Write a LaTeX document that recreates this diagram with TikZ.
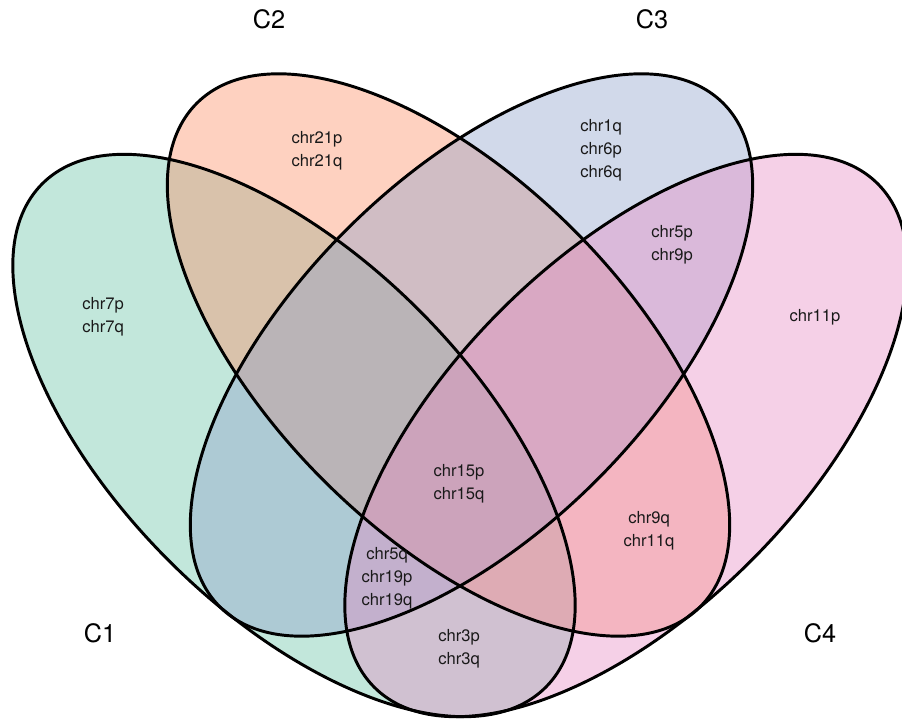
\documentclass[tikz,border=0pt]{standalone}
\usepackage{fontspec}
\setmainfont{TeX Gyre Heros}
\usepackage{xcolor}
\usepackage{tikz}

\definecolor{setone}{HTML}{66C2A5}
\definecolor{settwo}{HTML}{FC8D62}
\definecolor{setthree}{HTML}{8DA0CB}
\definecolor{setfour}{HTML}{E78AC3}

\begin{document}
\begin{tikzpicture}[x=0.025cm, y=0.025cm,
    setfill/.style={fill opacity=0.4},
    setline/.style={line width=2.1pt},
    regionlab/.style={align=center, inner sep=0pt, text=black!90,
        font=\fontsize{11.8}{16.4}\selectfont},
    setlab/.style={inner sep=0pt, font=\fontsize{18}{20}\selectfont}]
                \useasboundingbox (0,0) rectangle (902,719);

                % 集合填充
                \fill[setone, setfill, rotate around={-45:(294,283.5)}] (294,283.5) ellipse [x radius=356, y radius=177];
                \fill[settwo, setfill, rotate around={-45:(448.5,364)}] (448.5,364) ellipse [x radius=356, y radius=177];
                \fill[setthree, setfill, rotate around={45:(471.5,364)}] (471.5,364) ellipse [x radius=356, y radius=177];
                \fill[setfour, setfill, rotate around={45:(626,283.5)}] (626,283.5) ellipse [x radius=356, y radius=177];

                % 集合边框
                \draw[setline, rotate around={-45:(294,283.5)}] (294,283.5) ellipse [x radius=356, y radius=177];
                \draw[setline, rotate around={-45:(448.5,364)}] (448.5,364) ellipse [x radius=356, y radius=177];
                \draw[setline, rotate around={45:(471.5,364)}] (471.5,364) ellipse [x radius=356, y radius=177];
                \draw[setline, rotate around={45:(626,283.5)}] (626,283.5) ellipse [x radius=356, y radius=177];

                % 集合名称
                \node[setlab] (nameone) at (100,86) {C1};
                \node[setlab] (nametwo) at (269,700) {C2};
                \node[setlab] (namethree) at (652,700) {C3};
                \node[setlab] (namefour) at (820,86) {C4};

                % 区域元素
                \node[regionlab] (onlyone) at (103,402) {chr7p\\chr7q};
                \node[regionlab] (onlytwo) at (317,568) {chr21p\\chr21q};
                \node[regionlab] (onlythree) at (601,569) {chr1q\\chr6p\\chr6q};
                \node[regionlab] (threefour) at (672,474) {chr5p\\chr9p};
                \node[regionlab] (onlyfour) at (815,402) {chr11p};
                \node[regionlab] (allfour) at (459,235.5) {chr15p\\chr15q};
                \node[regionlab] (twothreefour) at (649,188.5) {chr9q\\chr11q};
                \node[regionlab] (onethreefour) at (387,141) {chr5q\\chr19p\\chr19q};
                \node[regionlab] (onefour) at (459,70) {chr3p\\chr3q};
            \end{tikzpicture}
\end{document}
